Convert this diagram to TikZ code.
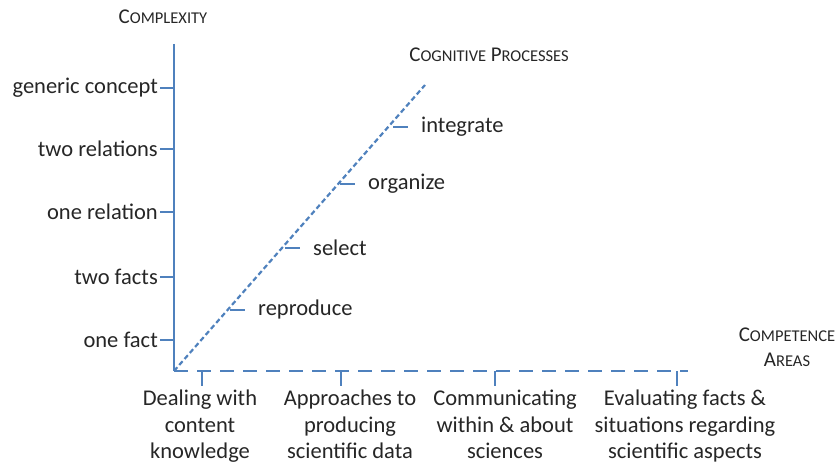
\documentclass[tikz,border=0pt]{standalone}
\usepackage{fontspec}
\setmainfont{Carlito}
\newcommand{\fsc}[2]{{\fontsize{21}{24}\selectfont #1}{\fontsize{16.5}{24}\selectfont #2}}
\begin{document}
\begin{tikzpicture}[x=1pt,y=-1pt,
  axis/.style={draw=axblue,line width=2.2pt},
  tck/.style={draw=axblue,line width=1.2pt},
  lbl/.style={font=\fontsize{22.5}{27}\selectfont,text=black!85,inner sep=0pt},
  blbl/.style={font=\fontsize{22.5}{26.5}\selectfont,text=black!85,inner sep=0pt,align=center,anchor=north},
  ttl/.style={font=\fontsize{20}{24}\selectfont,text=black!85,inner sep=0pt,align=center}]
\definecolor{axblue}{RGB}{79,129,189}
\useasboundingbox (0,0) rectangle (838,465);
\coordinate (o) at (174,371);
\coordinate (ytop) at (174,44);
\coordinate (xend) at (688,371);
\coordinate (dend) at (425,85);
\draw[axis] (ytop) -- (o);
\draw[axis,line width=2.4pt,dash pattern=on 14pt off 9pt] (o) -- (xend);
\draw[axis,line width=2.2pt,dash pattern=on 5pt off 3pt] (o) -- (dend);
% y ticks
\foreach \n/\t/\y in {gc/generic concept/88,tr/two relations/149,or/one relation/212,tf/two facts/277,of/one fact/340}{
  \coordinate (\n t) at (174,\y);
  \node[lbl,anchor=east] (\n) at (158,\y) {\t};
  \draw[tck] (\n.east) ++(2,0) -- (\n t);
}
% x ticks
\coordinate (at) at (202,371); \coordinate (bt) at (341,371);
\coordinate (ct) at (495,371); \coordinate (dt) at (677,371);
\coordinate (ab) at (202,386); \coordinate (bb) at (341,386);
\coordinate (cb) at (495,386); \coordinate (db) at (677,386);
\draw[tck] (at) -- (ab); \draw[tck] (bt) -- (bb);
\draw[tck] (ct) -- (cb); \draw[tck] (dt) -- (db);
\node[blbl] (la) at (200,390) {Dealing with\\content\\knowledge};
\node[blbl] (lb) at (350,390) {Approaches to\\producing\\scientific data};
\node[blbl] (lc) at (505,390) {Communicating\\within \& about\\sciences};
\node[blbl] (ld) at (685,390) {Evaluating facts \&\\situations regarding\\scientific aspects};
% diagonal ticks
\foreach \n/\t/\x/\y in {rp/reproduce/230/310,se/select/285/248,og/organize/340/184,ig/integrate/393/127}{
  \coordinate (\n t) at (\x,\y);
  \coordinate (\n e) at (\x+15,\y);
  \draw[tck] (\n t) -- (\n e);
  \node[lbl,anchor=west] (\n) at (\x+28,\y) {\t};
}
% titles
\node[ttl] (tcx) at (163,17) {\fsc{C}{OMPLEXITY}};
\node[ttl] (tcp) at (489,55) {\fsc{C}{OGNITIVE}\ \fsc{P}{ROCESSES}};
\node[ttl] (tca) at (787,335) {\fsc{C}{OMPETENCE}};
\node[ttl] (tcb) at (787,360) {\fsc{A}{REAS}};
\end{tikzpicture}
\end{document}
